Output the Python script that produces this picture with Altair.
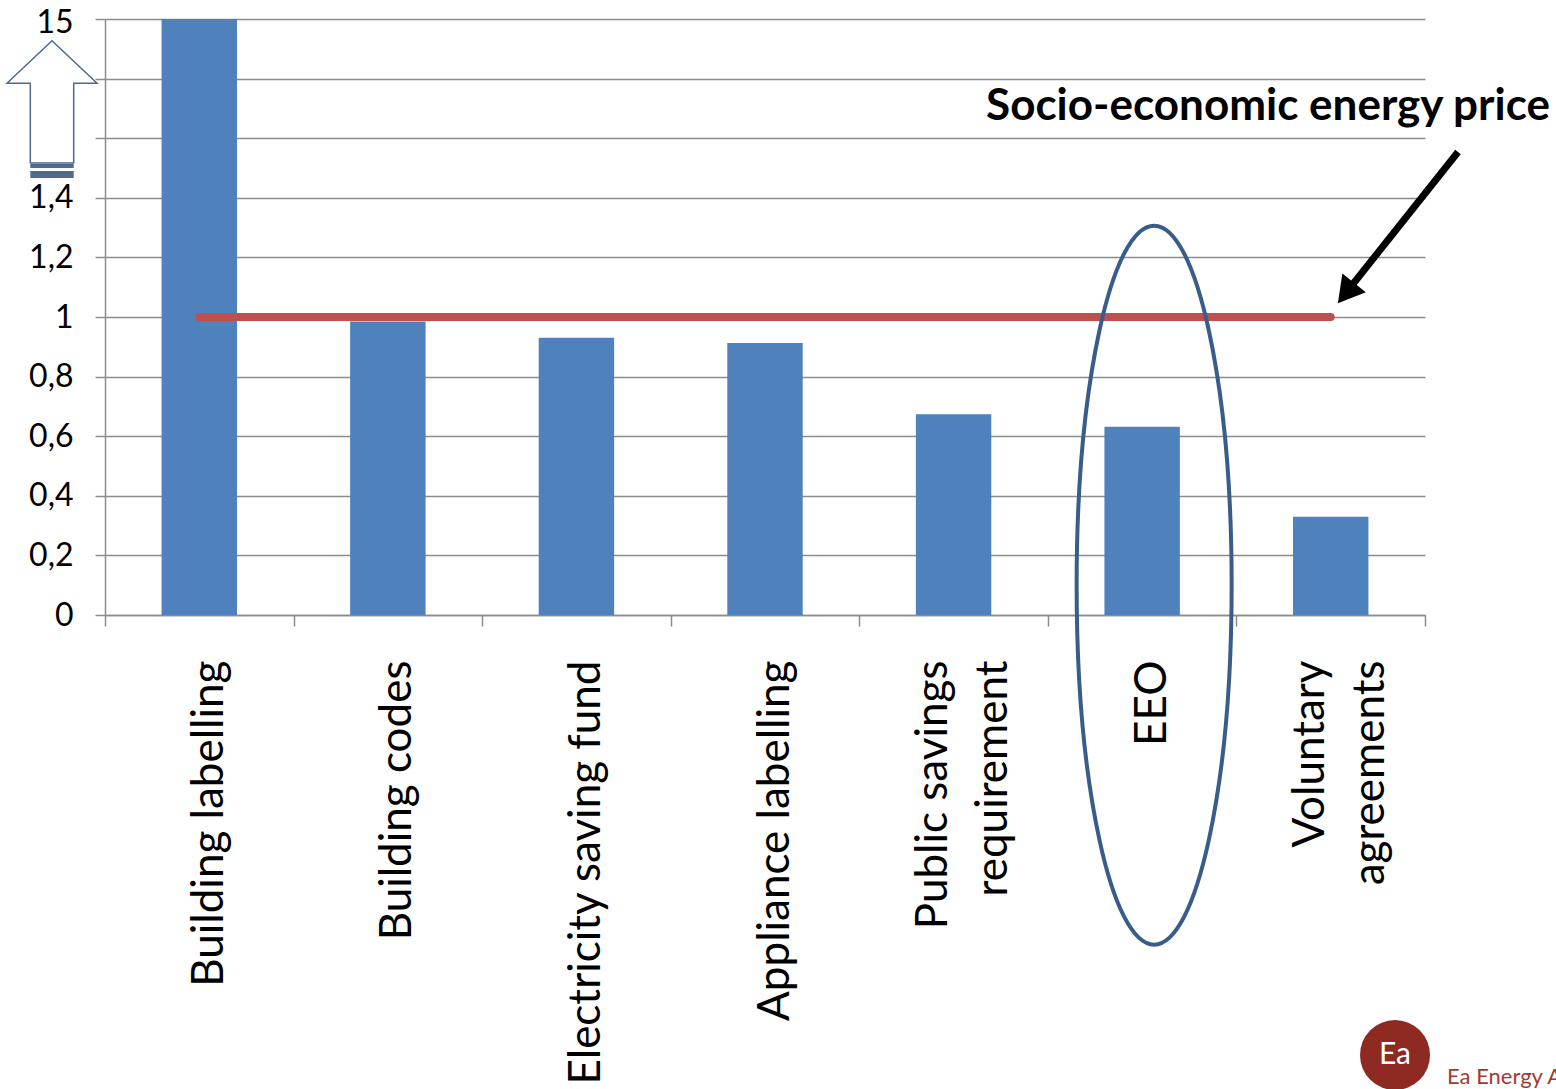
import altair as alt
import pandas as pd

# ---------------- data ----------------
categories = ["Building labelling", "Building codes", "Electricity saving fund",
              "Appliance labelling", "Public savings requirement", "EEO",
              "Voluntary agreements"]
ratios = [15, 0.985, 0.93, 0.913, 0.674, 0.632, 0.33]
energy_price = 1.0
y_ticks = [0, 0.2, 0.4, 0.6, 0.8, 1.0, 1.2, 1.4, 1.6, 1.8, 2.0]
y_tick_labels = ["0", "0,2", "0,4", "0,6", "0,8", "1", "1,2", "1,4", "", "", "15"]
label_lines = {"Public savings requirement": ["Public savings", "requirement"],
               "Voluntary agreements": ["Voluntary", "agreements"]}
annotation_text = "Socio-economic energy price"
highlight = "EEO"
highlight_center = 0.1
logo_mark = "Ea"
logo_text = "Ea Energy Analyses"

# ---------------- styling ----------------
FONT = "Lato"
BAR = "#4F81BD"
RED = "#C0504D"
GRID = "#8C8C8C"
ELLIPSE = "#385D8A"
ARROW_OUT = "#4F6A8F"

PLOT_W, PLOT_H = 1320, 596
STEP = PLOT_W / len(categories)
BANDW = 0.4 * STEP

df = pd.DataFrame({"policy": categories, "ratio": ratios})
price_df = pd.DataFrame({"policy": categories, "price": [energy_price] * len(categories)})
hl_df = pd.DataFrame({"policy": [highlight], "center": [highlight_center]})

y_label_expr = "[" + ",".join("'%s'" % s for s in y_tick_labels) + "][round(datum.value*5)]"
x_label_expr = ""
for k, v in label_lines.items():
    x_label_expr += "datum.label == '%s' ? [%s] : " % (k, ",".join("'%s'" % s for s in v))
x_label_expr += "datum.label"
multi_test = "indexof([%s], datum.value) >= 0" % ",".join("'%s'" % k for k in label_lines)

x_scale = alt.Scale(domain=categories, paddingInner=0.6, paddingOuter=0.3)
y_scale = alt.Scale(domain=[0, 2.0], clamp=True, nice=False, zero=True)

base_off = 0.3 * STEP + 10
x_axis = alt.Axis(
    title=None, labelAngle=-90, labelFont=FONT, labelFontSize=44, labelColor="black",
    labelLineHeight=60, labelPadding=34, labelLimit=0, labelExpr=x_label_expr,
    labelOffset={"condition": {"test": multi_test, "value": base_off - 30}, "value": base_off},
    tickOffset=-0.3 * STEP, bandPosition=2.5, tickExtra=True,
    tickSize=11, tickColor=GRID, tickWidth=1.5, domainColor=GRID, domainWidth=1.5,
    grid=False, labelOverlap=False,
)
y_axis = alt.Axis(
    title=None, values=y_ticks, labelExpr=y_label_expr, labelFont=FONT, labelFontSize=32,
    labelColor="black", labelPadding=22, labelFlush=False, labelOverlap=False,
    labelOffset={"condition": {"test": "datum.value >= 2", "value": 3}, "value": 0},
    tickSize=10, tickColor=GRID, tickWidth=1.5, domainColor=GRID, domainWidth=1.5,
    grid=True, gridColor=GRID, gridWidth=1.5,
)

bars = alt.Chart(df).mark_bar(color=BAR).encode(
    x=alt.X("policy:N", scale=x_scale, axis=x_axis, sort=categories),
    y=alt.Y("ratio:Q", scale=y_scale, axis=y_axis),
)

price = alt.Chart(price_df).mark_line(color=RED, strokeWidth=8, strokeCap="round").encode(
    x=alt.X("policy:N", sort=categories), y="price:Q"
)

# ellipse around the highlighted category (semi-axes 77.5 x 359.5 px)
ell_path = "M -0.2156 0 A 0.2156 1 0 1 1 0.2156 0 A 0.2156 1 0 1 1 -0.2156 0 Z"
ellipse = alt.Chart(hl_df).mark_point(
    shape=ell_path, size=719 ** 2, filled=False, stroke=ELLIPSE, strokeWidth=4, opacity=1
).encode(x=alt.X("policy:N", sort=categories), y="center:Q",
         xOffset=alt.value(BANDW / 2 + 12))

one = pd.DataFrame({"note": [annotation_text]})

# hollow "axis break" arrow
arrow_path = ("M 0 -0.961 L 0.643 -0.353 L 0.31 -0.353 L 0.31 0.786 "
              "L -0.31 0.786 L -0.31 -0.353 L -0.643 -0.353 Z")
band_path = ("M -0.31 0.8 L 0.31 0.8 L 0.31 0.857 L -0.31 0.857 Z "
             "M -0.31 0.9 L 0.31 0.9 L 0.31 1.0 L -0.31 1.0 Z")
break_arrow = alt.Chart(one).mark_point(
    shape=arrow_path, size=140 ** 2, filled=True, fill="white", stroke=ARROW_OUT,
    strokeWidth=1.5, opacity=1
).encode(x=alt.value(-53), y=alt.value(89))
break_band = alt.Chart(one).mark_point(
    shape=band_path, size=140 ** 2, filled=True, fill=ARROW_OUT, strokeWidth=0, opacity=1
).encode(x=alt.value(-53), y=alt.value(89))

# annotation text + black pointer
note = alt.Chart(one).mark_text(
    font=FONT, fontSize=44, fontWeight="bold", align="right", baseline="middle", color="black"
).encode(x=alt.value(1445), y=alt.value(88), text="note:N")
shaft = alt.Chart(one).mark_rule(color="black", strokeWidth=7).encode(
    x=alt.value(1353), y=alt.value(133), x2=alt.value(1248), y2=alt.value(265)
)
head = alt.Chart(one).mark_point(
    shape="triangle-up", size=900, angle=218.5, filled=True, color="black", opacity=1
).encode(x=alt.value(1241), y=alt.value(274))

# logo
logo_df = pd.DataFrame({"mark": [logo_mark], "name": [logo_text]})
logo_circle = alt.Chart(logo_df).mark_point(
    shape="circle", size=4900, filled=True, color="#8E2A22", opacity=1
).encode(x=alt.value(1290), y=alt.value(1036))
logo_glyph = alt.Chart(logo_df).mark_text(
    font=FONT, fontSize=30, color="white", align="center", baseline="middle"
).encode(x=alt.value(1290), y=alt.value(1036), text="mark:N")
logo_name = alt.Chart(logo_df).mark_text(
    font=FONT, fontSize=22, color="#A33A32", align="left", baseline="alphabetic"
).encode(x=alt.value(1342), y=alt.value(1065), text="name:N")

chart = alt.layer(
    bars, price, ellipse, break_arrow, break_band, note, shaft, head,
    logo_circle, logo_glyph, logo_name
).properties(
    width=PLOT_W, height=PLOT_H,
    padding={"left": 105, "top": 19, "right": 131, "bottom": 474},
    autosize=alt.AutoSizeParams(type="none"),
    background="white",
).configure_view(stroke=None)

chart.save("out.html", embed_options={"renderer": "svg", "actions": False})
